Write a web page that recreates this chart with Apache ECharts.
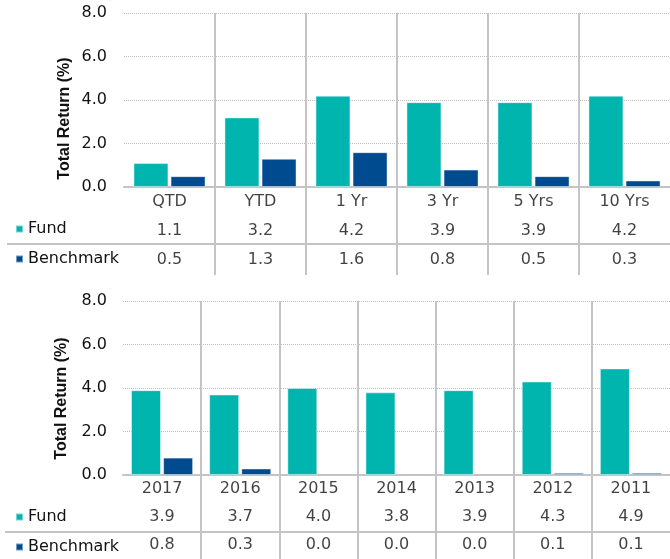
<!DOCTYPE html>
<html>
<head>
<meta charset="utf-8">
<script src="https://cdn.jsdelivr.net/npm/echarts@6/dist/echarts.min.js"></script>
<style>
html,body{margin:0;padding:0;background:#fff;}
#chart{width:670px;height:559px;}
</style>
</head>
<body>
<div id="chart"></div>
<script>
// ---- Data ----
var periodCategories = ['QTD', 'YTD', '1 Yr', '3 Yr', '5 Yrs', '10 Yrs'];
var periodFund = [1.1, 3.2, 4.2, 3.9, 3.9, 4.2];
var periodBenchmark = [0.5, 1.3, 1.6, 0.8, 0.5, 0.3];

var yearCategories = ['2017', '2016', '2015', '2014', '2013', '2012', '2011'];
var yearFund = [3.9, 3.7, 4.0, 3.8, 3.9, 4.3, 4.9];
var yearBenchmark = [0.8, 0.3, 0.0, 0.0, 0.0, 0.1, 0.1];

var yTicks = [0, 2, 4, 6, 8];
var seriesNames = ['Fund', 'Benchmark'];
var tableRows = ['label', 'Fund', 'Benchmark'];

// ---- Styles ----
var FUND_COLOR = '#00B5AE';
var BENCH_COLOR = '#004A8F';
var RULE = '#c4c4c4';
var TEXT = '#111111';
var FONT = 'DejaVu Sans';

function tableData(cats, fund, bench) {
  var out = [];
  cats.forEach(function (c, i) {
    out.push({ value: [c, 'label'], text: c });
    out.push({ value: [c, 'Fund'], text: fund[i].toFixed(1) });
    out.push({ value: [c, 'Benchmark'], text: bench[i].toFixed(1) });
  });
  return out;
}

function barData(values) {
  return values.map(function (v) {
    return v === 0 ? { value: v, itemStyle: { borderWidth: 0 } } : v;
  });
}

function panel(idx, cats, fund, bench, geo) {
  var g = idx * 2;
  var grids = [
    { left: geo.left, top: geo.top, width: geo.width, height: geo.plotH },
    { left: geo.left, top: geo.top + geo.plotH, width: geo.width, height: geo.tableH }
  ];
  var xAxes = [
    {
      type: 'category', gridIndex: g, data: cats,
      axisLine: { show: true, lineStyle: { color: RULE, width: 2 } },
      axisTick: { show: false }, axisLabel: { show: false },
      splitLine: { show: true, showMinLine: false, showMaxLine: false, lineStyle: { color: RULE, width: 2 } }
    },
    {
      type: 'category', gridIndex: g + 1, data: cats,
      axisLine: { show: false }, axisTick: { show: false }, axisLabel: { show: false },
      splitLine: { show: true, showMinLine: false, showMaxLine: false, lineStyle: { color: RULE, width: 2 } }
    }
  ];
  var yAxes = [
    {
      type: 'value', gridIndex: g, min: yTicks[0], max: yTicks[yTicks.length - 1], interval: 2,
      axisLine: { show: false }, axisTick: { show: false },
      axisLabel: { color: TEXT, fontFamily: FONT, fontSize: 16, margin: geo.labelMargin,
        formatter: function (v) { return v.toFixed(1); } },
      splitLine: { show: true, lineStyle: { color: '#bdbdbd', type: [1, 1], width: 1 } }
    },
    {
      type: 'category', gridIndex: g + 1, data: tableRows, inverse: true, show: false
    }
  ];
  var barCommon = {
    type: 'bar', xAxisIndex: g, yAxisIndex: g, barWidth: geo.barW, barGap: geo.barGap,
    silent: true
  };
  var series = [
    Object.assign({}, barCommon, { name: seriesNames[0], data: barData(fund),
      itemStyle: { color: FUND_COLOR, borderColor: 'rgba(255,255,255,0.45)', borderWidth: 1 } }),
    Object.assign({}, barCommon, { name: seriesNames[1], data: barData(bench),
      itemStyle: { color: BENCH_COLOR, borderColor: 'rgba(255,255,255,0.45)', borderWidth: 1 } }),
    {
      type: 'scatter', xAxisIndex: g + 1, yAxisIndex: g + 1, silent: true,
      symbolSize: 1, itemStyle: { color: 'rgba(0,0,0,0)' },
      data: tableData(cats, fund, bench),
      label: { show: true, position: 'inside', color: TEXT, fontFamily: FONT, fontSize: 16,
        formatter: function (p) { return p.data.text; } }
    }
  ];
  var legend = {
    orient: 'vertical', left: 15, top: geo.legendTop, itemGap: 10, padding: 0,
    icon: 'rect', itemWidth: 7, itemHeight: 7, selectedMode: false,
    data: seriesNames,
    textStyle: { color: TEXT, fontFamily: FONT, fontSize: 16, lineHeight: 20 }
  };
  var graphics = [
    { type: 'text', x: geo.nameX, y: geo.nameY, rotation: Math.PI / 2, silent: true,
      style: { text: 'Total Return (%)', fill: TEXT, fontSize: 16, fontWeight: 'bold',
        fontFamily: 'Liberation Sans', textAlign: 'center', textVerticalAlign: 'middle' } },
    { type: 'line', silent: true,
      shape: { x1: geo.ruleX, y1: geo.ruleY, x2: 670, y2: geo.ruleY },
      style: { stroke: RULE, lineWidth: 2 } }
  ];
  return { grids: grids, xAxes: xAxes, yAxes: yAxes, series: series, legend: legend, graphics: graphics };
}

var p1 = panel(0, periodCategories, periodFund, periodBenchmark, {
  left: 124, top: 13, width: 552, plotH: 174, tableH: 88, labelMargin: 17,
  barW: 35, barGap: '6%', legendTop: 219, nameX: 65, nameY: 118.5, ruleX: 7, ruleY: 244
});
var p2 = panel(1, yearCategories, yearFund, yearBenchmark, {
  left: 123, top: 301, width: 553, plotH: 174, tableH: 88, labelMargin: 16,
  barW: 30, barGap: '7%', legendTop: 507, nameX: 62, nameY: 398.5, ruleX: 5, ruleY: 532
});

var chart = echarts.init(document.getElementById('chart'), null, { renderer: 'canvas' });
chart.setOption({
  animation: false,
  backgroundColor: '#ffffff',
  grid: p1.grids.concat(p2.grids),
  xAxis: p1.xAxes.concat(p2.xAxes),
  yAxis: p1.yAxes.concat(p2.yAxes),
  series: p1.series.concat(p2.series),
  legend: [p1.legend, p2.legend],
  graphic: p1.graphics.concat(p2.graphics)
});
</script>
</body>
</html>
